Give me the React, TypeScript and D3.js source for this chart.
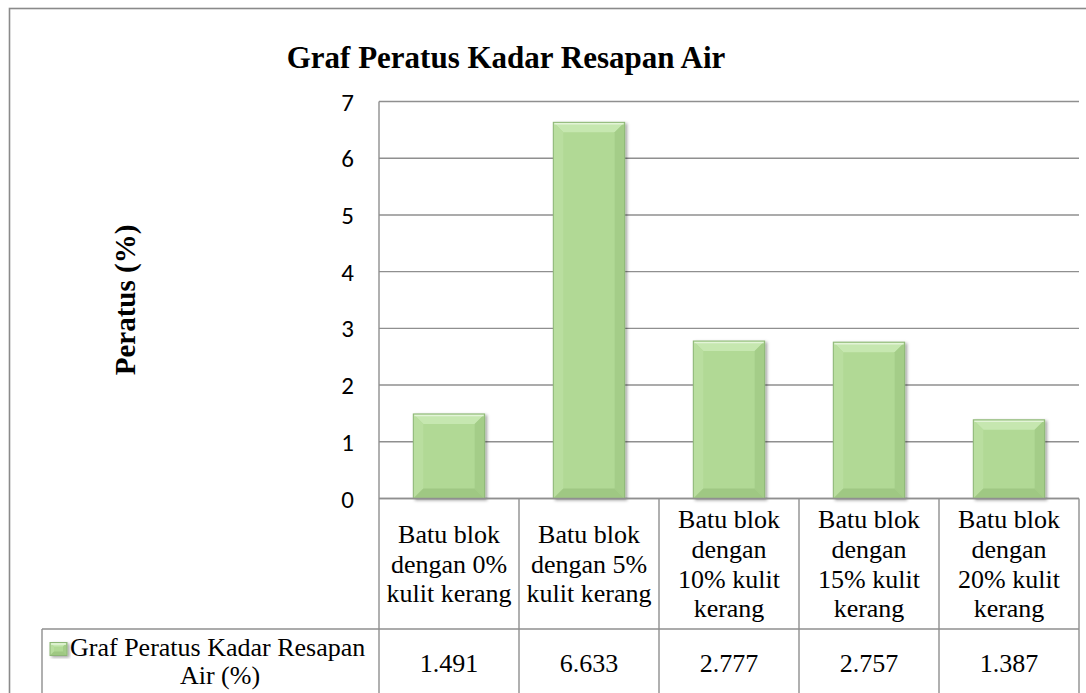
import React from "react";
import * as d3 from "d3";

const title = "Graf Peratus Kadar Resapan Air";
const yAxisTitle = "Peratus (%)";
const seriesName = ["Graf Peratus Kadar Resapan", "Air (%)"];
const categories = [
  "Batu blok dengan 0% kulit kerang",
  "Batu blok dengan 5% kulit kerang",
  "Batu blok dengan 10% kulit kerang",
  "Batu blok dengan 15% kulit kerang",
  "Batu blok dengan 20% kulit kerang",
];
const categoryLines = [
  ["Batu blok", "dengan 0%", "kulit kerang"],
  ["Batu blok", "dengan 5%", "kulit kerang"],
  ["Batu blok", "dengan", "10% kulit", "kerang"],
  ["Batu blok", "dengan", "15% kulit", "kerang"],
  ["Batu blok", "dengan", "20% kulit", "kerang"],
];
const values = [1.491, 6.633, 2.777, 2.757, 1.387];
const valueLabels = ["1.491", "6.633", "2.777", "2.757", "1.387"];
const yTicks = [0, 1, 2, 3, 4, 5, 6, 7];

const W = 1086;
const H = 693;
const plotL = 379;
const plotR = 1079;
const plotT = 101.5;
const plotB = 498.5;
const catRowB = 629;
const legendL = 42;
const GRID = "#8f8f8f";
const SERIF = "'Liberation Serif', 'Times New Roman', serif";
const SANS = "Carlito, Calibri, 'Open Sans', sans-serif";

function BevelRect({ x0, x1, y0, y1, b }: { x0: number; x1: number; y0: number; y1: number; b: number }) {
  const bb = Math.min(b, (y1 - y0) / 2, (x1 - x0) / 2);
  const p = (pts: number[][]) => pts.map((q) => q.join(",")).join(" ");
  return (
    <g>
      <rect x={x0} y={y0} width={x1 - x0} height={y1 - y0} fill="#b1d995" />
      <polygon points={p([[x0, y0], [x1, y0], [x1 - bb, y0 + bb], [x0 + bb, y0 + bb]])} fill="#c6e7b0" />
      <polygon points={p([[x0, y0], [x0 + bb, y0 + bb], [x0 + bb, y1 - bb], [x0, y1]])} fill="#b9de9f" />
      <polygon points={p([[x1, y0], [x1, y1], [x1 - bb, y1 - bb], [x1 - bb, y0 + bb]])} fill="#a4cd88" />
      <polygon points={p([[x0, y1], [x0 + bb, y1 - bb], [x1 - bb, y1 - bb], [x1, y1]])} fill="#9fc883" />
      <line x1={x0 + 1} x2={x1 - 1} y1={y0 + 1.5} y2={y0 + 1.5} stroke="#e3f4d8" strokeWidth={1.5} />
      <rect x={x0} y={y0} width={x1 - x0} height={y1 - y0} fill="none" stroke="#8db676" strokeWidth={1} />
    </g>
  );
}

export default function App() {
  const y = d3.scaleLinear().domain([0, 7]).range([plotB, plotT]);
  const col = d3.scaleBand<string>().domain(categories).range([plotL, plotR]).padding(0);
  const xb = d3
    .scaleBand<string>()
    .domain(categories)
    .range([plotL, plotR])
    .paddingInner(0.49)
    .paddingOuter(0.245);

  const lineH = 29.7;

  return (
    <svg
      width={W}
      height={H}
      viewBox={`0 0 ${W} ${H}`}
      style={{ position: "fixed", left: 0, top: 0, background: "#fff" }}
    >
      <defs>
        <filter id="shadow" x="-20%" y="-20%" width="140%" height="140%">
          <feDropShadow dx="2" dy="1.5" stdDeviation="1.6" floodColor="#000" floodOpacity="0.35" />
        </filter>
      </defs>
      <rect x={0} y={0} width={W} height={H} fill="#fff" />
      {/* outer frame */}
      <rect x={9.5} y={8.5} width={W + 20} height={H + 20} fill="none" stroke="#8a8a8a" strokeWidth={1.6} />

      {/* title */}
      <text x={506} y={68} textAnchor="middle" fontFamily={SERIF} fontWeight="bold" fontSize={31} fill="#000">
        {title}
      </text>

      {/* y axis title */}
      <text
        transform={`translate(135,${(plotT + plotB) / 2}) rotate(-90)`}
        textAnchor="middle"
        fontFamily={SERIF}
        fontWeight="bold"
        fontSize={29}
        fill="#000"
      >
        {yAxisTitle}
      </text>

      {/* gridlines */}
      {yTicks.map((t) => (
        <line key={t} x1={plotL} x2={plotR} y1={y(t)} y2={y(t)} stroke={GRID} strokeWidth={1.4} />
      ))}
      {/* tick labels */}
      {yTicks.map((t) => (
        <text
          key={"l" + t}
          x={354}
          y={y(t)}
          dy="0.36em"
          textAnchor="end"
          fontFamily={SANS}
          fontSize={25}
          fill="#000"
        >
          {t}
        </text>
      ))}

      {/* table lines */}
      <line x1={plotL} x2={plotL} y1={plotT} y2={H} stroke={GRID} strokeWidth={1.4} />
      <line x1={plotR} x2={plotR} y1={plotB} y2={H} stroke={GRID} strokeWidth={1.4} />
      {categories.map((c, i) =>
        i > 0 ? (
          <line key={"v" + c} x1={col(c)!} x2={col(c)!} y1={plotB} y2={H} stroke={GRID} strokeWidth={1.4} />
        ) : null
      )}
      <line x1={legendL} x2={plotR} y1={catRowB} y2={catRowB} stroke={GRID} strokeWidth={1.4} />
      <line x1={legendL} x2={legendL} y1={catRowB} y2={H} stroke={GRID} strokeWidth={1.4} />

      {/* bars */}
      {categories.map((c, i) => (
        <g key={"b" + c} filter="url(#shadow)">
          <BevelRect x0={xb(c)!} x1={xb(c)! + xb.bandwidth()} y0={y(values[i])} y1={y(0)} b={10} />
        </g>
      ))}
      <line x1={plotL} x2={plotR} y1={plotB} y2={plotB} stroke={GRID} strokeWidth={1.4} />

      {/* category labels */}
      {categories.map((c, i) => {
        const lines = categoryLines[i];
        const cx = col(c)! + col.bandwidth() / 2;
        const mid = (plotB + catRowB) / 2 + 9;
        const first = mid - ((lines.length - 1) * lineH) / 2;
        return (
          <text key={"c" + c} textAnchor="middle" fontFamily={SERIF} fontSize={26} fill="#000">
            {lines.map((ln, k) => (
              <tspan key={k} x={cx} y={first + k * lineH}>
                {ln}
              </tspan>
            ))}
          </text>
        );
      })}

      {/* values row */}
      {categories.map((c, i) => (
        <text
          key={"v" + c}
          x={col(c)! + col.bandwidth() / 2}
          y={672}
          textAnchor="middle"
          fontFamily={SERIF}
          fontSize={26}
          fill="#000"
        >
          {valueLabels[i]}
        </text>
      ))}

      {/* legend */}
      <g filter="url(#shadow)">
        <BevelRect x0={50} x1={67} y0={642.5} y1={655.5} b={4} />
      </g>
      <text x={70} y={656} fontFamily={SERIF} fontSize={26} fill="#000">
        {seriesName[0]}
      </text>
      <text x={220} y={684} textAnchor="middle" fontFamily={SERIF} fontSize={26} fill="#000">
        {seriesName[1]}
      </text>
    </svg>
  );
}
